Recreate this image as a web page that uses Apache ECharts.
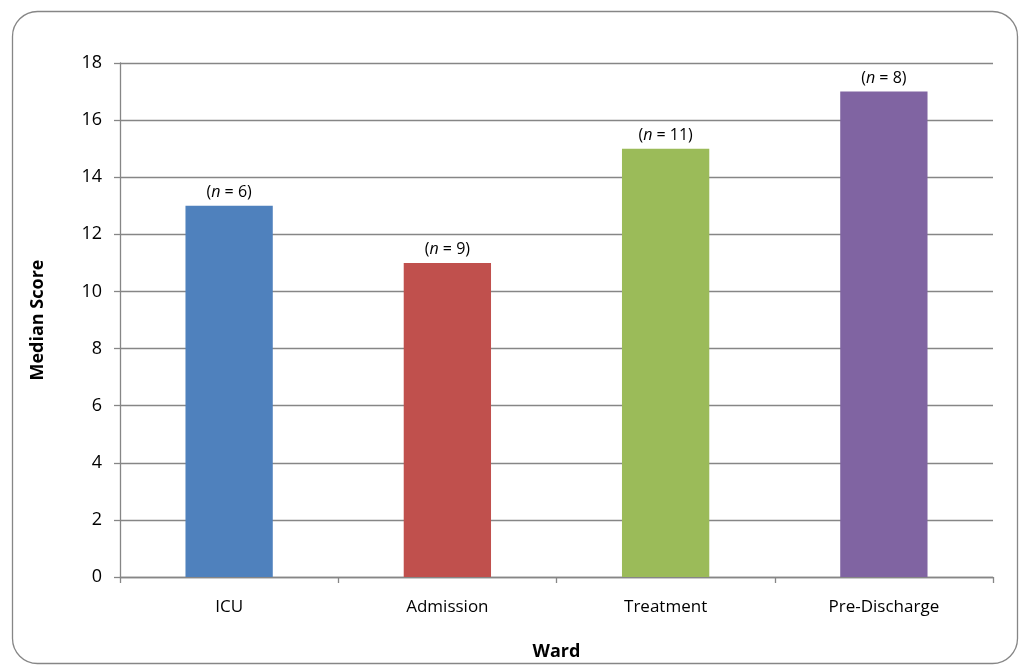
<!DOCTYPE html>
<html>
<head>
<meta charset="utf-8">
<script src="https://cdn.jsdelivr.net/npm/echarts@6/dist/echarts.min.js"></script>
<style>html,body{margin:0;padding:0;background:#fff;}#c{width:1028px;height:666px;}</style>
</head>
<body>
<div id="c"></div>
<script>
const categories = ['ICU', 'Admission', 'Treatment', 'Pre-Discharge'];
const medianScores = [13, 11, 15, 17];
const sampleSizes = [6, 9, 11, 8];
const barColors = ['#4F81BD', '#C0504D', '#9BBB59', '#8064A2'];
const yTicks = [0, 2, 4, 6, 8, 10, 12, 14, 16, 18];

const FONT = '"Open Sans", "Noto Sans", sans-serif';
const chart = echarts.init(document.getElementById('c'), null, {renderer: 'canvas'});
chart.setOption({
  animation: false,
  graphic: [{
    type: 'rect',
    shape: {x: 12.5, y: 11.5, width: 1005, height: 652, r: 25},
    style: {fill: 'none', stroke: '#868686', lineWidth: 1.3},
    silent: true
  }],
  grid: {left: 120, right: 35, top: 63, bottom: 85, containLabel: false},
  xAxis: {
    type: 'category',
    data: categories,
    name: 'Ward',
    nameLocation: 'middle',
    nameGap: 66,
    nameTextStyle: {fontFamily: FONT, fontWeight: 'bold', fontSize: 18, color: '#000'},
    axisLine: {lineStyle: {color: '#868686', width: 1.3}},
    axisTick: {show: true, alignWithLabel: false, length: 6, lineStyle: {color: '#868686', width: 1.3}},
    axisLabel: {fontFamily: FONT, fontSize: 17, color: '#000', margin: 22}
  },
  yAxis: {
    type: 'value',
    min: 0, max: 18, interval: 2,
    name: 'Median Score',
    nameLocation: 'middle',
    nameGap: 73,
    nameTextStyle: {fontFamily: FONT, fontWeight: 'bold', fontSize: 18, color: '#000'},
    axisLine: {show: true, lineStyle: {color: '#868686', width: 1.3}},
    axisTick: {show: true, length: 6, lineStyle: {color: '#868686', width: 1.3}},
    axisLabel: {fontFamily: FONT, fontSize: 18, color: '#000', margin: 18,
      formatter: v => yTicks.includes(v) ? String(v) : ''},
    splitLine: {lineStyle: {color: '#868686', width: 1.3}}
  },
  series: [{
    type: 'bar',
    barWidth: '40%',
    data: medianScores.map((v, i) => ({value: v, itemStyle: {color: barColors[i]}})),
    label: {
      show: true,
      position: 'top',
      distance: 5,
      formatter: p => '{a|(}{i|n}{a| = ' + sampleSizes[p.dataIndex] + ')}',
      rich: {
        a: {fontFamily: FONT, fontSize: 16, color: '#000'},
        i: {fontFamily: FONT, fontSize: 16, fontStyle: 'italic', color: '#000'}
      }
    }
  }]
});
</script>
</body>
</html>
